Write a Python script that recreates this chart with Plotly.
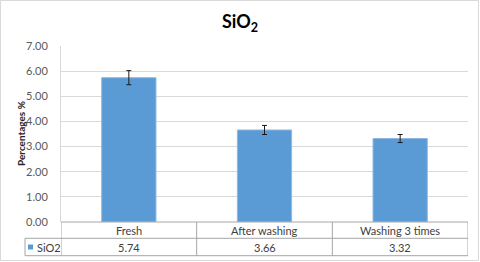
import plotly.graph_objects as go

categories = ["Fresh", "After washing", "Washing 3 times"]
values = [5.74, 3.66, 3.32]
errors = [0.28, 0.18, 0.16]
series_name = "SiO2"
y_ticks = [0, 1, 2, 3, 4, 5, 6, 7]

FONT = "Lato"
GRID = "#d9d9d9"
TLINE = "#a6a6a6"
BLUE = "#5b9bd5"

fig = go.Figure()
fig.add_trace(go.Bar(
    x=categories, y=values, width=0.4,
    marker=dict(color=BLUE, line=dict(color="#8fb8e3", width=1)),
    error_y=dict(type="data", array=errors, visible=True, color="#1a1a1a",
                 thickness=1, width=2.5),
    hoverinfo="skip",
))

# paper helpers (plot area: x 61..468 px, y 46..222 px)
L, R, T, B = 61, 12, 46, 40
PW, PH = 480 - L - R, 262 - T - B
def px(p):
    return (p - L) / PW
def py(p):
    return (262 - B - p) / PH

shapes = []
# x-axis line / table top
shapes.append(dict(type="line", xref="paper", yref="paper", x0=0, x1=1, y0=0, y1=0,
                   line=dict(color=TLINE, width=1)))
# table horizontal lines
for yy in (238.3, 255.7):
    shapes.append(dict(type="line", xref="paper", yref="paper", x0=px(25), x1=1,
                       y0=py(yy), y1=py(yy), line=dict(color=TLINE, width=1)))
# table verticals at category boundaries
for i in range(len(categories) + 1):
    shapes.append(dict(type="line", xref="x", yref="paper", x0=i - 0.5, x1=i - 0.5,
                       y0=0, y1=py(255.7), line=dict(color=TLINE, width=1)))
# left edge of legend cell
shapes.append(dict(type="line", xref="paper", yref="paper", x0=px(25), x1=px(25),
                   y0=py(238.3), y1=py(255.7), line=dict(color=TLINE, width=1)))
# legend key square
shapes.append(dict(type="rect", xref="paper", yref="paper", x0=px(28), x1=px(33),
                   y0=py(249.5), y1=py(244.5), line=dict(width=0), fillcolor=BLUE))
# outer chart border
shapes.append(dict(type="rect", xref="paper", yref="paper", x0=px(0.5), x1=px(478.5),
                   y0=py(260.5), y1=py(0.5), line=dict(color=GRID, width=1)))

tfont = dict(family=FONT, size=11, color="#404040")
annotations = []
for c, v in zip(categories, values):
    annotations.append(dict(x=c, xref="x", y=py(230), yref="paper", text=c,
                            xanchor="center", yanchor="middle",
                            showarrow=False, font=tfont))
    annotations.append(dict(x=c, xref="x", y=py(247), yref="paper", text=f"{v:.2f}",
                            xanchor="center", yanchor="middle",
                            showarrow=False, font=tfont))
annotations.append(dict(x=px(35), xref="paper", y=py(247), yref="paper", text=series_name,
                        xanchor="left", yanchor="middle", showarrow=False, font=tfont))
annotations.append(dict(x=px(21), xref="paper", y=0.5, yref="paper",
                        text="<b>Percentages %</b>", textangle=-90, showarrow=False,
                        xanchor="center", yanchor="middle",
                        font=dict(family=FONT, size=10, color="#262626")))

fig.update_layout(
    width=480, height=262,
    margin=dict(l=L, r=R, t=T, b=B),
    paper_bgcolor="white", plot_bgcolor="white",
    showlegend=False, hovermode=False,
    title=dict(text="<b>SiO<sub>2</sub></b>", x=0.5, xanchor="center",
               y=1 - 22 / 262, yanchor="middle", yref="container",
               font=dict(family=FONT, size=18, color="#000000")),
    xaxis=dict(range=[-0.5, 2.5], showticklabels=False, showgrid=False,
               zeroline=False, showline=False, ticks=""),
    yaxis=dict(range=[0, 7], tickvals=y_ticks, tickformat=".2f",
               showgrid=True, gridcolor=GRID, gridwidth=1, zeroline=False,
               showline=True, linecolor=GRID, linewidth=1, ticks="",
               ticklabelstandoff=10,
               tickfont=dict(family=FONT, size=11, color="#595959")),
    shapes=shapes, annotations=annotations,
)

fig.write_html("out.html", config={"displayModeBar": False},
               post_script="document.body.style.margin='0';document.body.style.overflow='hidden';")
